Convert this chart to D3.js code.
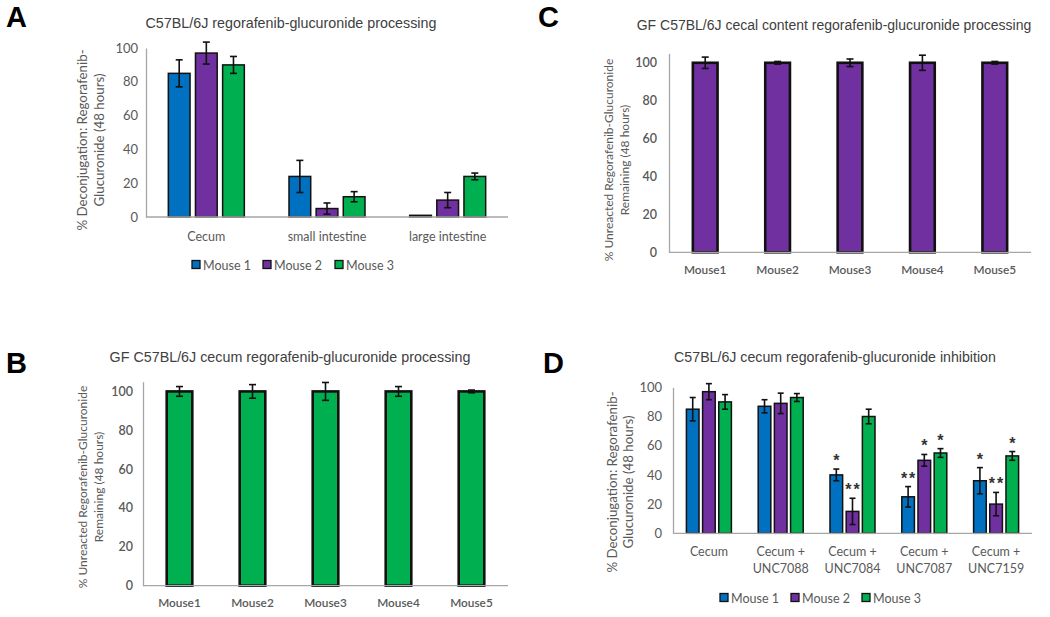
<!DOCTYPE html>
<html><head><meta charset="utf-8">
<script src="https://cdn.jsdelivr.net/npm/d3@7"></script>
<style>
html,body{margin:0;padding:0;background:#fff;}
svg{display:block;}
</style></head>
<body>
<svg id="chart" width="1050" height="617"></svg>
<script>
// ---------------- DATA ----------------
const seriesNames = ["Mouse 1", "Mouse 2", "Mouse 3"];
const seriesColors = ["#0070C0", "#7030A0", "#00B050"];
const yTicks = [0, 20, 40, 60, 80, 100];

// Panel A
const aCategories = ["Cecum", "small intestine", "large intestine"];
const aMouse1 = [85, 24, 1];
const aMouse1Err = [8, 9.5, 0];
const aMouse2 = [97, 5, 10];
const aMouse2Err = [6.5, 3.3, 4.5];
const aMouse3 = [90, 12, 24];
const aMouse3Err = [5, 3, 2];

// Panel B
const bCategories = ["Mouse1", "Mouse2", "Mouse3", "Mouse4", "Mouse5"];
const bValues = [100, 100, 100, 100, 100];
const bErr = [2.5, 3.5, 4.6, 2.5, 0.7];

// Panel C
const cCategories = ["Mouse1", "Mouse2", "Mouse3", "Mouse4", "Mouse5"];
const cValues = [100, 100, 100, 100, 100];
const cErr = [3, 0.7, 2, 4, 0.7];

// Panel D
const dCategories = [["Cecum"], ["Cecum +", "UNC7088"], ["Cecum +", "UNC7084"], ["Cecum +", "UNC7087"], ["Cecum +", "UNC7159"]];
const dMouse1 = [85, 87, 40, 25, 36];
const dMouse1Err = [8, 4.5, 4, 7, 9];
const dMouse2 = [97, 89, 15, 50, 20];
const dMouse2Err = [5.5, 7, 9, 4, 8];
const dMouse3 = [90, 93, 80, 55, 53];
const dMouse3Err = [5, 2.7, 5, 3, 3];
const dMouse1Stars = ["", "", "*", "**", "*"];
const dMouse2Stars = ["", "", "**", "*", "**"];
const dMouse3Stars = ["", "", "", "*", "*"];

// ---------------- DRAW ----------------
const svg = d3.select("#chart");
const AXIS_GRAY = "#a6a6a6";
const TEXT_GRAY = "#595959";
const TITLE_COLOR = "#404040";
const FONT = "Lato, 'Open Sans', sans-serif";
const TITLE_FONT = "'Liberation Sans', Arial, sans-serif";

function panelLetter(letter, x, y) {
  svg.append("text").attr("x", x).attr("y", y).text(letter)
    .attr("font-family", TITLE_FONT).attr("font-weight", "bold")
    .attr("font-size", 29).attr("fill", "#000");
}

function drawPanel(cfg) {
  const g = svg.append("g");
  const cats = cfg.categories.map((c, i) => i);
  const x = d3.scaleBand().domain(cats).range([cfg.x0, cfg.x1]).paddingInner(0).paddingOuter(0);
  const y = d3.scaleLinear().domain([0, cfg.yMax]).range([cfg.yBase, cfg.yTop]);
  const sIdx = cfg.series.map((s, i) => i);
  const band = x.bandwidth();
  const gw = cfg.groupWidth;
  const xs = d3.scaleBand().domain(sIdx).range([(band - gw) / 2, (band + gw) / 2]).paddingInner(cfg.innerPad);

  // title
  g.append("text").attr("x", cfg.titleX).attr("y", cfg.titleY).attr("text-anchor", "middle")
    .attr("font-family", TITLE_FONT).attr("font-size", cfg.titleSize).attr("fill", TITLE_COLOR)
    .text(cfg.title);

  // y axis
  const yAxis = d3.axisLeft(y).tickValues(yTicks).tickSize(0).tickPadding(cfg.tickPad);
  const ya = g.append("g").attr("transform", `translate(${cfg.x0},0)`).call(yAxis);
  ya.select(".domain").attr("stroke", AXIS_GRAY).attr("stroke-width", 1.3);
  ya.selectAll("text").attr("font-family", FONT).attr("font-size", cfg.tickSize).attr("fill", TEXT_GRAY)
    .attr("font-weight", cfg.tickWeight || "normal");

  // bars
  cfg.series.forEach((s, si) => {
    const bars = g.append("g");
    s.values.forEach((v, ci) => {
      const bx = x(ci) + xs(si);
      const bw = xs.bandwidth();
      bars.append("rect").attr("x", bx).attr("y", y(v)).attr("width", bw)
        .attr("height", Math.max(0, y(0) - y(v)))
        .attr("fill", s.color).attr("stroke", "#111").attr("stroke-width", cfg.barStroke);
      const e = s.err[ci];
      const cx = bx + bw / 2;
      if (e > 0) {
        g.append("line").attr("x1", cx).attr("x2", cx).attr("y1", y(v + e)).attr("y2", y(v - e))
          .attr("stroke", "#111").attr("stroke-width", 1.6);
        [v + e, v - e].forEach(ev => {
          g.append("line").attr("x1", cx - cfg.cap).attr("x2", cx + cfg.cap).attr("y1", y(ev)).attr("y2", y(ev))
            .attr("stroke", "#111").attr("stroke-width", 1.6);
        });
      }
      if (s.stars && s.stars[ci]) {
        g.append("text").attr("x", cx + 1).attr("y", y(v + e) - 3).attr("text-anchor", "middle")
          .attr("font-family", TITLE_FONT).attr("font-size", 16).attr("font-weight", "bold")
          .attr("letter-spacing", 2).attr("fill", "#333")
          .text(s.stars[ci]);
      }
    });
  });

  // x axis baseline
  g.append("line").attr("x1", cfg.x0).attr("x2", cfg.x1).attr("y1", y(0)).attr("y2", y(0))
    .attr("stroke", AXIS_GRAY).attr("stroke-width", 1.3);

  // x labels
  cfg.categories.forEach((c, ci) => {
    const lines = Array.isArray(c) ? c : [c];
    const t = g.append("text").attr("text-anchor", "middle")
      .attr("font-family", FONT).attr("font-size", cfg.xLabelSize).attr("fill", TEXT_GRAY)
      .attr("font-weight", cfg.xLabelWeight || "normal");
    lines.forEach((ln, li) => {
      t.append("tspan").attr("x", x(ci) + band / 2).attr("y", cfg.xLabelY + li * cfg.xLabelLH).text(ln);
    });
  });

  // y label
  cfg.yLabel.forEach((ln, li) => {
    g.append("text")
      .attr("transform", `translate(${cfg.yLabelX[li]},${cfg.yLabelCY}) rotate(-90)`)
      .attr("text-anchor", "middle").attr("dominant-baseline", "central")
      .attr("font-family", FONT).attr("font-size", cfg.yLabelSize).attr("fill", TEXT_GRAY)
      .text(ln);
  });

  // legend
  if (cfg.legend) {
    cfg.legend.items.forEach((it, i) => {
      const lx = cfg.legend.xs[i];
      g.append("rect").attr("x", lx).attr("y", cfg.legend.y - 4.5).attr("width", 8).attr("height", 8)
        .attr("fill", seriesColors[i]).attr("stroke", "#111").attr("stroke-width", 1.3);
      g.append("text").attr("x", lx + 11).attr("y", cfg.legend.y).attr("dominant-baseline", "central")
        .attr("font-family", FONT).attr("font-size", 12.5).attr("fill", TEXT_GRAY).text(it);
    });
  }
}

// Panel A
panelLetter("A", 6, 27);
drawPanel({
  title: "C57BL/6J regorafenib-glucuronide  processing", titleX: 291, titleY: 28, titleSize: 14.3,
  categories: aCategories,
  series: [
    { values: aMouse1, err: aMouse1Err, color: seriesColors[0] },
    { values: aMouse2, err: aMouse2Err, color: seriesColors[1] },
    { values: aMouse3, err: aMouse3Err, color: seriesColors[2] }
  ],
  x0: 146, x1: 508, yBase: 217, yTop: 48, yMax: 100,
  groupWidth: 76, innerPad: 0.2, barStroke: 1.5, cap: 3.5,
  tickPad: 8, tickSize: 13,
  xLabelY: 241, xLabelLH: 15, xLabelSize: 12.5,
  yLabel: ["% Deconjugation: Regorafenib-", "Glucuronide (48 hours)"], yLabelX: [82, 99], yLabelCY: 140, yLabelSize: 13.3,
  legend: { items: seriesNames, xs: [192, 263, 335], y: 265 }
});

// Panel B
panelLetter("B", 6, 373);
drawPanel({
  title: "GF C57BL/6J cecum regorafenib-glucuronide  processing", titleX: 290, titleY: 362, titleSize: 14.3,
  categories: bCategories,
  series: [{ values: bValues, err: bErr, color: seriesColors[2] }],
  x0: 143, x1: 508, yBase: 585.7, yTop: 381.7, yMax: 105,
  groupWidth: 25.6, innerPad: 0, barStroke: 2.6, cap: 3.5,
  tickPad: 10, tickSize: 12.5, tickWeight: 600,
  xLabelY: 607, xLabelLH: 14, xLabelSize: 11.8, xLabelWeight: 600,
  yLabel: ["% Unreacted Regorafenib-Glucuronide", "Remaining (48 hours)"], yLabelX: [82, 98], yLabelCY: 487, yLabelSize: 12
});

// Panel C
panelLetter("C", 538, 27);
drawPanel({
  title: "GF C57BL/6J cecal content regorafenib-glucuronide  processing", titleX: 834, titleY: 30, titleSize: 14,
  categories: cCategories,
  series: [{ values: cValues, err: cErr, color: seriesColors[1] }],
  x0: 669, x1: 1031, yBase: 252.3, yTop: 53.3, yMax: 105,
  groupWidth: 24.7, innerPad: 0, barStroke: 2.6, cap: 3.5,
  tickPad: 12, tickSize: 12.5, tickWeight: 600,
  xLabelY: 274, xLabelLH: 14, xLabelSize: 11.8, xLabelWeight: 600,
  yLabel: ["% Unreacted Regorafenib-Glucuronide", "Remaining (48 hours)"], yLabelX: [608, 624], yLabelCY: 160, yLabelSize: 12
});

// Panel D
panelLetter("D", 543, 373);
drawPanel({
  title: "C57BL/6J cecum regorafenib-glucuronide  inhibition", titleX: 835, titleY: 362, titleSize: 14.2,
  categories: dCategories,
  series: [
    { values: dMouse1, err: dMouse1Err, color: seriesColors[0], stars: dMouse1Stars },
    { values: dMouse2, err: dMouse2Err, color: seriesColors[1], stars: dMouse2Stars },
    { values: dMouse3, err: dMouse3Err, color: seriesColors[2], stars: dMouse3Stars }
  ],
  x0: 673, x1: 1032, yBase: 533.3, yTop: 387.3, yMax: 100,
  groupWidth: 45, innerPad: 0.22, barStroke: 1.5, cap: 3,
  tickPad: 11, tickSize: 13,
  xLabelY: 556, xLabelLH: 17, xLabelSize: 12.5,
  yLabel: ["% Deconjugation: Regorafenib-", "Glucuronide (48 hours)"], yLabelX: [612, 628], yLabelCY: 482, yLabelSize: 13.3,
  legend: { items: seriesNames, xs: [720, 791, 862], y: 598 }
});
</script>
</body></html>
